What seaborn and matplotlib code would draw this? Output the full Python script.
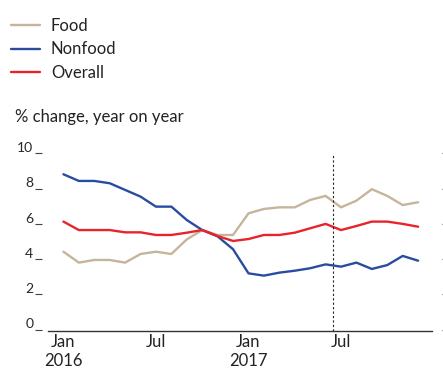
import matplotlib
matplotlib.use("Agg")
import matplotlib.pyplot as plt
import matplotlib.transforms as mtransforms
import seaborn as sns
import pandas as pd

# Monthly, Jan 2016 - Dec 2017 (% change, year on year)
months = list(range(24))
food = [4.42, 3.80, 3.95, 3.95, 3.80, 4.29, 4.42, 4.29, 5.12, 5.65, 5.37, 5.37,
        6.60, 6.85, 6.94, 6.94, 7.36, 7.59, 6.94, 7.32, 7.97, 7.59, 7.07, 7.23]
nonfood = [8.82, 8.44, 8.44, 8.31, 7.93, 7.55, 6.98, 6.98, 6.22, 5.65, 5.29, 4.56,
           3.19, 3.06, 3.23, 3.34, 3.48, 3.70, 3.57, 3.80, 3.44, 3.66, 4.18, 3.91]
overall = [6.13, 5.65, 5.65, 5.65, 5.52, 5.52, 5.37, 5.37, 5.50, 5.65, 5.31, 5.03,
           5.14, 5.37, 5.37, 5.50, 5.75, 6.00, 5.65, 5.88, 6.13, 6.13, 6.00, 5.84]
series = ["Food", "Nonfood", "Overall"]
xtick_pos = [0, 6, 12, 18]
xtick_labels = ["Jan\n2016", "Jul", "Jan\n2017", "Jul"]
yticks = [0, 2, 4, 6, 8, 10]

df = pd.DataFrame({"month": months, "Food": food, "Nonfood": nonfood, "Overall": overall})
long = df.melt(id_vars="month", var_name="series", value_name="value")

sns.set_style("white")
plt.rcParams["font.family"] = ["Lato", "DejaVu Sans"]
palette = {"Food": "#c4b59b", "Nonfood": "#2a4c9f", "Overall": "#e8232b"}
txt = "#222222"

fig = plt.figure(figsize=(4.43, 3.70), dpi=100)
ax = fig.add_axes([48 / 443, 39 / 370, 384 / 443, 182.8 / 370])

sns.lineplot(data=long, x="month", y="value", hue="series", hue_order=series,
             palette=palette, linewidth=1.7, ax=ax, legend=False)

# dashed marker between Jun and Jul 2017
ax.axvline(17.48, ymin=0, ymax=0.965, color="#222222", linestyle=(0, (2, 2)), linewidth=0.8)

ax.set_xlim(-1, 23.9)
ax.set_ylim(-0.085, 10.3)
ax.set_xticks(xtick_pos)
ax.set_xticklabels(xtick_labels, fontsize=12, color=txt, linespacing=1.22)
ax.set_yticks(yticks)
ax.set_yticklabels([str(t) for t in yticks], fontsize=13, color=txt)
ax.set_xlabel("")
ax.set_ylabel("")

for s in ["top", "left", "right"]:
    ax.spines[s].set_visible(False)
ax.spines["bottom"].set_color("#333333")
ax.spines["bottom"].set_linewidth(1.0)
ax.spines["left"].set_position(("outward", 4))
ax.spines["right"].set_position(("outward", 7))

ax.tick_params(axis="x", length=0, pad=2)
ax.tick_params(axis="y", left=True, right=True, length=5, width=0.8,
               color="#444444", pad=1.5)
ax.tick_params(axis="y", labelright=False)

# y labels sit on their tick marks; right side marks are faint stubs
lift = mtransforms.ScaledTranslation(0, 4.5 / 72, fig.dpi_scale_trans)
for tick in ax.yaxis.get_major_ticks():
    tick.label1.set_transform(tick.label1.get_transform() + lift)
    tick.tick2line.set_color("#aaaaaa")
    tick.tick2line.set_markersize(2)

# legend
handles = [plt.Line2D([], [], color=palette[s], linewidth=1.7) for s in series]
fig.legend(handles, series, loc="upper left", bbox_to_anchor=(11 / 443, 1 - 18 / 370),
           frameon=False, fontsize=12, handlelength=1.75, handletextpad=0.65,
           labelspacing=0.45, borderpad=0, borderaxespad=0, labelcolor=txt)

fig.text(15 / 443, 1 - 117 / 370, "% change, year on year", fontsize=12,
         color=txt, va="center", ha="left")

fig.savefig("out.png", dpi=100)
